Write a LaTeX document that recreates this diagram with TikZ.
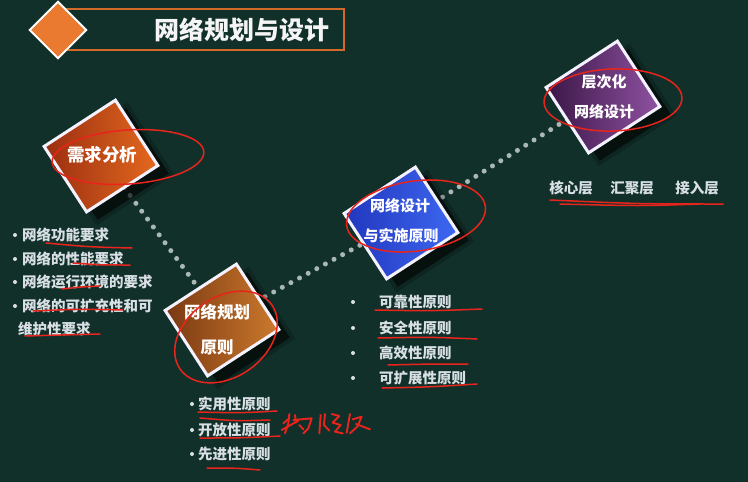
\documentclass[tikz,border=0pt]{standalone}
\usepackage{fontspec}
\setmainfont{Noto Sans CJK SC}
\usetikzlibrary{calc}
\definecolor{bgc}{HTML}{12302A}
\definecolor{dotc}{HTML}{A9B8B6}
\definecolor{txt}{HTML}{D8E0E6}
\definecolor{annot}{HTML}{E8241C}
\definecolor{titleor}{HTML}{D46A2A}
\definecolor{diaor}{HTML}{EA7A30}
\definecolor{o1l}{HTML}{9A2E10}
\definecolor{o1r}{HTML}{E4681E}
\definecolor{o2l}{HTML}{7A3812}
\definecolor{o2r}{HTML}{CC7A2C}
\definecolor{b3l}{HTML}{2236BE}
\definecolor{b3r}{HTML}{3D68F0}
\definecolor{p4l}{HTML}{3A1646}
\definecolor{p4r}{HTML}{9052A2}
\definecolor{rim}{HTML}{F4F2FF}
\pgfdeclarelayer{back}
\pgfsetlayers{back,main}
\begin{document}
\begin{tikzpicture}[x=1pt,y=-1pt,
  sq/.style={rotate=33, minimum width=85pt, minimum height=78pt, inner sep=0pt, outer sep=0pt},
  frame/.style={sq, draw=rim, line width=3pt},
  shad/.style={sq, fill=black, opacity=0.55},
  shadsoft/.style={sq, minimum width=93pt, minimum height=86pt, fill=black, opacity=0.2},
  lab/.style={text=white, font=\fontsize{16}{19}\selectfont\bfseries, inner sep=0pt},
  item/.style={anchor=west, text=txt, font=\fontsize{14.5}{17}\selectfont\bfseries, inner sep=0pt},
  bul/.style={circle, fill=txt, minimum size=4pt, inner sep=0pt},
  dotline/.style={draw=dotc, line width=5pt, line cap=round, dash pattern=on 0pt off 9.8pt},
  red/.style={draw=annot, line width=1.5pt, line cap=round, line join=round}]
\useasboundingbox (0,0) rectangle (748,482);

% title
\node[draw=titleor, line width=2pt, minimum width=282pt, minimum height=41pt, anchor=north west, inner sep=0pt] (tbox) at (61,8) {};
\node[rotate=45, minimum size=40pt, fill=diaor, draw=white, line width=2pt, inner sep=0pt] (dia) at (58,30) {};
\node[text=white!92!gray, font=\fontsize{25}{30}\selectfont\bfseries, inner sep=0pt] (title) at (242,30) {网络规划与设计};

% shadows
\node[shadsoft] (h1b) at (112,164) {};
\node[shad] (h1) at (112,164) {};
\node[shadsoft] (h2b) at (233,328) {};
\node[shad] (h2) at (233,328) {};
\node[shadsoft] (h3b) at (412,231) {};
\node[shad] (h3) at (412,231) {};
\node[shadsoft] (h4b) at (614,105) {};
\node[shad] (h4) at (614,105) {};

% squares
\node[frame, left color=o1l, right color=o1r] (s1) at (101,156) {};
\node[frame, left color=o2l, right color=o2r] (s2) at (222,320) {};
\node[frame, left color=b3l, right color=b3r] (s3) at (401,223) {};
\node[frame, left color=p4l, right color=p4r] (s4) at (603,97) {};

% labels
\node[lab, font=\fontsize{17.5}{20}\selectfont\bfseries] (t1) at (102,155) {需求分析};
\node[lab, font=\fontsize{16.5}{20}\selectfont\bfseries] (t2a) at (217,312) {网络规划};
\node[lab, font=\fontsize{16.5}{20}\selectfont\bfseries] (t2b) at (217,347) {原则};
\node[lab, font=\fontsize{15}{18}\selectfont\bfseries] (t3a) at (400,206) {网络设计};
\node[lab, font=\fontsize{15}{18}\selectfont\bfseries] (t3b) at (401,236) {与实施原则};
\node[lab, font=\fontsize{15}{18}\selectfont\bfseries] (t4a) at (604,82) {层次化};
\node[lab, font=\fontsize{15}{18}\selectfont\bfseries] (t4b) at (604,112) {网络设计};

% list 1
\node[bul] (b11) at (15,235) {};
\node[item] (l11) at (22,235) {网络功能要求};
\node[bul] (b12) at (15,259) {};
\node[item] (l12) at (22,259) {网络的性能要求};
\node[bul] (b13) at (15,282) {};
\node[item] (l13) at (22,282) {网络运行环境的要求};
\node[bul] (b14) at (15,306) {};
\node[item] (l14) at (22,306) {网络的可扩充性和可};
\node[item] (l15) at (18,329) {维护性要求};

% list 2
\node[bul] (b21) at (192,404) {};
\node[item] (l21) at (198,404) {实用性原则};
\node[bul] (b22) at (192,430) {};
\node[item] (l22) at (198,430) {开放性原则};
\node[bul] (b23) at (192,454) {};
\node[item] (l23) at (198,454) {先进性原则};

% list 3
\node[bul] (b31) at (353,302) {};
\node[item] (l31) at (379,302) {可靠性原则};
\node[bul] (b32) at (353,328) {};
\node[item] (l32) at (379,328) {安全性原则};
\node[bul] (b33) at (353,353) {};
\node[item] (l33) at (379,353) {高效性原则};
\node[bul] (b34) at (353,378) {};
\node[item] (l34) at (379,378) {可扩展性原则};

% layers
\node[item, anchor=center] (k1) at (571,188) {核心层};
\node[item, anchor=center] (k2) at (632,188) {汇聚层};
\node[item, anchor=center] (k3) at (697,188) {接入层};

% red annotations: ellipses
\draw[red, rotate around={4:(128,157)}] (128,157) ellipse [x radius=76pt, y radius=27pt];
\draw[red, rotate around={35:(226,337)}] (226,337) ellipse [x radius=56pt, y radius=40pt];
\draw[red, rotate around={8:(416,216)}] (416,216) ellipse [x radius=70pt, y radius=35pt];
\draw[red, rotate around={2:(613,100)}] (613,100) ellipse [x radius=69pt, y radius=31pt];

% red underlines list 1
\draw[red] (46,243) .. controls (90,247) .. (132,248);
\draw[red] (73,263) .. controls (100,265) .. (130,265);
\draw[red] (62,289) .. controls (80,287) .. (100,286);
\draw[red] (33,311) .. controls (80,309) .. (123,310);
\draw[red] (25,336) .. controls (60,335) .. (100,334);
% list 2
\draw[red] (198,412) .. controls (240,413) .. (277,411);
\draw[red] (200,418) .. controls (235,421) .. (270,420);
\draw[red] (200,438) .. controls (240,438) .. (280,436);
\draw[red] (207,468) .. controls (235,468) .. (260,470);
% list 3
\draw[red] (375,310) .. controls (430,311) .. (482,309);
\draw[red] (378,338) .. controls (430,337) .. (477,339);
\draw[red] (388,365) .. controls (430,364) .. (468,364);
\draw[red] (382,388) .. controls (430,387) .. (477,384);
% layers underline
\draw[red] (550,200) .. controls (640,204) .. (723,204);
\draw[red] (560,204) .. controls (640,206) .. (700,204);

% handwriting
\begin{scope}[shift={(270,400)}, x=0.3333pt, y=-0.3333pt, line width=1.9pt]
\draw[red, line width=1.9pt] (40,70) -- (58,55);
\draw[red, line width=1.9pt] (58,42) -- (55,70) -- (45,100);
\draw[red, line width=1.9pt] (35,90) -- (85,62);
\draw[red, line width=1.9pt] (75,45) -- (78,68);
\draw[red, line width=1.9pt] (70,60) -- (125,55) -- (115,85) -- (100,100);
\draw[red, line width=1.9pt] (88,75) -- (100,88);
\draw[red, line width=1.9pt] (152,45) -- (148,100);
\draw[red, line width=1.9pt] (165,42) -- (162,75) -- (178,92);
\draw[red, line width=1.9pt] (185,42) -- (208,48) -- (188,68) -- (212,75) -- (195,95) -- (218,100);
\draw[red, line width=1.9pt] (240,42) -- (230,98);
\draw[red, line width=1.9pt] (248,58) -- (275,50) -- (262,80) -- (240,100);
\draw[red, line width=1.9pt] (258,72) -- (300,88);
\end{scope}

\begin{pgfonlayer}{back}
\fill[bgc] (0,0) rectangle (748,482);
\draw[dotline] (s1.center) -- (s2.center);
\draw[dotline] (s2.center) -- (s3.center);
\draw[dotline] (s3.center) -- (s4.center);
\end{pgfonlayer}
\end{tikzpicture}
\end{document}
